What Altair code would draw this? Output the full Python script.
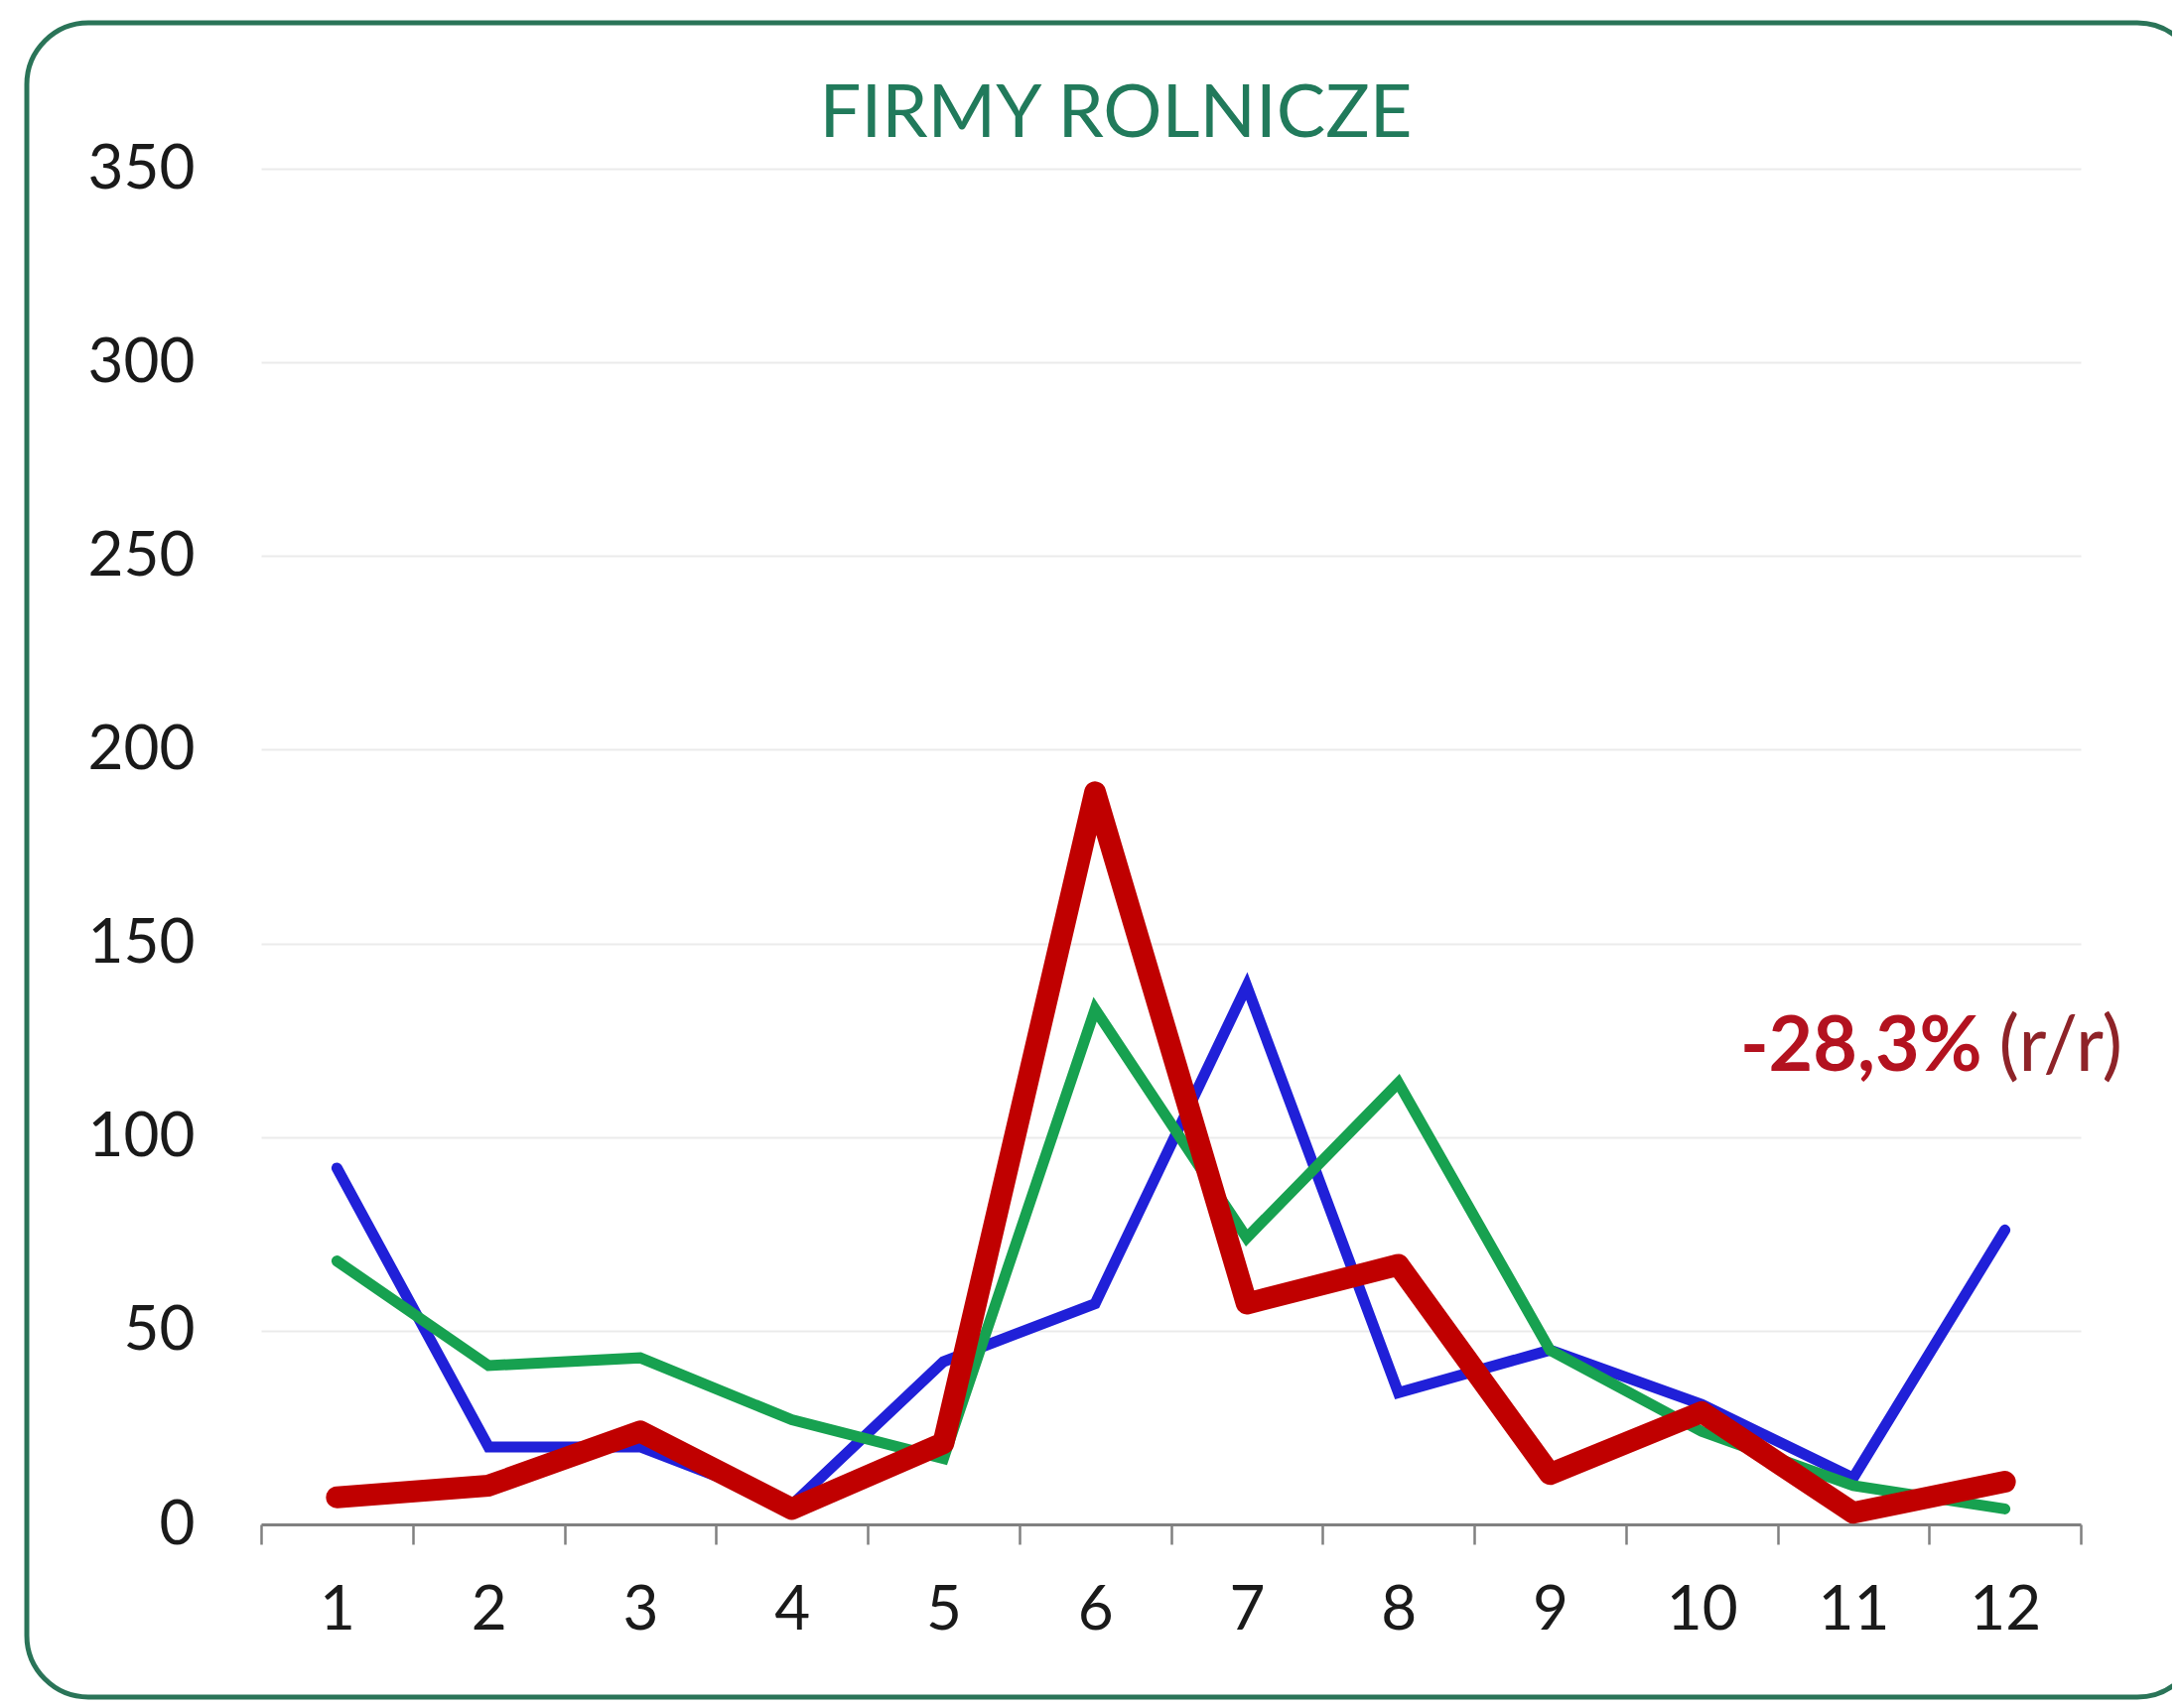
import altair as alt
import pandas as pd

# ---- data ----
months = [1, 2, 3, 4, 5, 6, 7, 8, 9, 10, 11, 12]
blue_vals = [92, 20, 20, 5, 42, 57, 139, 34, 45, 31, 12, 76]
green_vals = [68, 41, 43, 27, 17, 133, 74, 114, 45, 24, 10, 4]
red_vals = [7, 10, 24, 4, 21, 189, 57, 67, 13, 29, 3, 11]
y_ticks = [0, 50, 100, 150, 200, 250, 300, 350]
title_text = "FIRMY ROLNICZE"
note_bold = "-28,3%"
note_rest = "(r/r)"

# ---- layout ----
W, H = 1833, 1366
FONT = "Lato"

df = pd.DataFrame({
    "m": months * 3,
    "v": blue_vals + green_vals + red_vals,
    "s": ["a"] * 12 + ["b"] * 12 + ["c"] * 12,
})

tick_pos = [m - 0.5 for m in months] + [months[-1] + 0.5]

x_enc = alt.X(
    "m:Q",
    scale=alt.Scale(domain=[months[0] - 0.5, months[-1] + 0.5], nice=False, zero=False),
    axis=alt.Axis(
        values=tick_pos,
        title=None,
        grid=False,
        domainColor="#808080",
        domainWidth=3,
        tickColor="#808080",
        tickWidth=2.5,
        tickSize=20,
        labelFontSize=62,
        labelFont=FONT,
        labelColor="#1a1a1a",
        labelPadding=36,
        labelOffset=W / len(months) / 2,
        labelExpr=f"datum.value > {months[-1]} ? '' : format(datum.value + 0.5, 'd')",
        labelFlush=False,
        labelOverlap=False,
    ),
)
y_enc = alt.Y(
    "v:Q",
    scale=alt.Scale(domain=[0, 350], nice=False),
    axis=alt.Axis(
        values=y_ticks,
        title=None,
        domain=False,
        ticks=False,
        tickSize=0,
        grid=True,
        gridColor="#ebebeb",
        gridWidth=2,
        labelFontSize=62,
        labelFont=FONT,
        labelColor="#1a1a1a",
        labelPadding=67,
    ),
)

base = alt.Chart(df)
blue = base.transform_filter("datum.s == 'a'").mark_line(
    color="#2020d8", strokeWidth=11, strokeCap="round").encode(x=x_enc, y=y_enc)
green = base.transform_filter("datum.s == 'b'").mark_line(
    color="#17a150", strokeWidth=11, strokeCap="round").encode(x="m:Q", y="v:Q")
red = base.transform_filter("datum.s == 'c'").mark_line(
    color="#c00000", strokeWidth=22, strokeCap="round", strokeJoin="round").encode(x="m:Q", y="v:Q")

one = pd.DataFrame({"t": [title_text]})
border = alt.Chart(one).mark_rect(
    fill=None, stroke="#2a7458", strokeWidth=5, cornerRadius=62
).encode(x=alt.value(-236), x2=alt.value(1952), y=alt.value(-147), y2=alt.value(1540))

title = alt.Chart(one).mark_text(
    align="center", baseline="alphabetic", font=FONT, fontSize=74, color="#217a5b"
).encode(x=alt.value(861), y=alt.value(-32), text="t:N")

note_df = pd.DataFrame({"x1": [11.85], "x2": [11.96], "y": [117], "t1": [note_bold], "t2": [note_rest]})
note1 = alt.Chart(note_df).mark_text(
    align="right", baseline="alphabetic", font=FONT, fontSize=77, fontWeight="bold", color="#b3121f"
).encode(x="x1:Q", y="y:Q", text="t1:N")
note2 = alt.Chart(note_df).mark_text(
    align="left", baseline="alphabetic", font=FONT, fontSize=77, color="#8e2328"
).encode(x="x2:Q", y="y:Q", text="t2:N")

chart = alt.layer(border, title, blue, green, red, note1, note2).properties(
    width=W,
    height=H,
    autosize=alt.AutoSizeParams(type="none"),
    padding={"left": 255, "top": 162, "right": 92, "bottom": 177},
    background="white",
).configure_view(stroke=None)

chart.save("out.html", embed_options={"renderer": "svg", "actions": False})
